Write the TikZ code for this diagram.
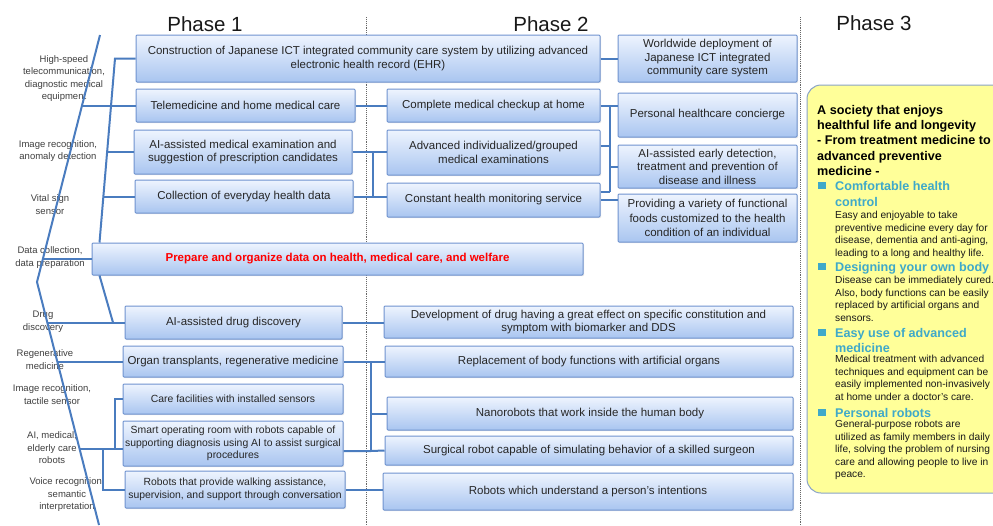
\documentclass[tikz,border=0pt]{standalone}
\usepackage{fontspec}
\setmainfont{Liberation Sans}
\usetikzlibrary{shadows,calc}
\definecolor{boxtop}{HTML}{EEF4FE}
\definecolor{boxbot}{HTML}{A9C5F0}
\definecolor{boxline}{HTML}{6F93CF}
\definecolor{boxtext}{HTML}{262626}
\definecolor{connc}{HTML}{4A7CBF}
\definecolor{lbltext}{HTML}{404040}
\definecolor{yfill}{HTML}{FFFF99}
\definecolor{yline}{HTML}{8AA4C8}
\definecolor{tealc}{HTML}{3FA9C9}
\definecolor{redc}{HTML}{FF0000}
\begin{document}
\begin{tikzpicture}[x=1pt,y=-1pt,
  box/.style={draw=boxline, line width=1pt, top color=boxtop, bottom color=boxbot,
    rounded corners=1pt, inner sep=0pt, align=center, text=boxtext,
    font=\fontsize{11.5}{13.5}\selectfont,
    drop shadow={shadow xshift=1pt,shadow yshift=-1.2pt,opacity=0.2}},
  smallbox/.style={box, font=\fontsize{10.4}{12.5}\selectfont},
  conn/.style={draw=connc, line width=2pt},
  lbl/.style={align=center, text=lbltext, font=\fontsize{9.5}{12.5}\selectfont, inner sep=0pt},
  phase/.style={font=\fontsize{20.5}{24}\selectfont, inner sep=0pt, text=black!90},
  divider/.style={draw=black!60, densely dotted, line width=0.9pt},
  ytitle/.style={anchor=base west, inner sep=0pt, font=\fontsize{12.6}{15}\selectfont\bfseries, text=black},
  yhead/.style={anchor=base west, inner sep=0pt, font=\fontsize{12.6}{15}\selectfont\bfseries, text=tealc},
  ybody/.style={anchor=base west, inner sep=0pt, font=\fontsize{10.2}{12.5}\selectfont, text=black!90},
  ybullet/.style={fill=tealc, inner sep=0pt, minimum width=7.5pt, minimum height=7pt}
]
\useasboundingbox (0,0) rectangle (993,525);
\fill[white] (0,0) rectangle (993,525);

% phase dividers and titles
\draw[divider] (366,17) -- (366,525);
\draw[divider] (800,17) -- (800,525);
\node[phase] (ph1) at (205,24) {Phase 1};
\node[phase] (ph2) at (551,24) {Phase 2};
\node[phase] (ph3) at (874,23.5) {Phase 3};

% left labels
\node[lbl] (l1) at (64,78.5) {High-speed\\telecommunication,\\diagnostic medical\\equipment};
\node[lbl] (l2) at (58,151) {Image recognition,\\anomaly detection};
\node[lbl] (l3) at (50,204.5) {Vital sign\\sensor};
\node[lbl] (l4) at (50,257.5) {Data collection,\\data preparation};
\node[lbl] (l5) at (43,321.5) {Drug\\discovery};
\node[lbl] (l6) at (45,359.5) {Regenerative\\medicine};
\node[lbl] (l7) at (52,394.5) {Image recognition,\\tactile sensor};
\node[lbl] (l8) at (52,448) {AI, medical,\\elderly care\\robots};
\node[lbl] (l9) at (67,495) {Voice recognition,\\semantic\\interpretation};

% phase 1 boxes
\node[box, minimum width=464pt, minimum height=47pt] (c1) at (368,58.5) {Construction of Japanese ICT integrated community care system by utilizing advanced\\electronic health record (EHR)};
\node[box, minimum width=219pt, minimum height=33pt] (t1) at (245.5,105.5) {Telemedicine and home medical care};
\node[box, minimum width=218pt, minimum height=44pt] (a1) at (243,152) {AI-assisted medical examination and\\suggestion of prescription candidates};
\node[box, minimum width=218pt, minimum height=33pt] (col) at (244,196.5) {Collection of everyday health data};
\node[box, minimum width=491pt, minimum height=32pt, text=redc, font=\fontsize{11.5}{13.5}\selectfont\bfseries] (prep) at (337.5,259) {Prepare and organize data on health, medical care, and welfare};
\node[box, minimum width=217pt, minimum height=33pt] (drug) at (233.5,322.5) {AI-assisted drug discovery};
\node[box, minimum width=220pt, minimum height=31pt] (organ) at (233,361.5) {Organ transplants, regenerative medicine};
\node[smallbox, minimum width=220pt, minimum height=30pt] (care) at (233,399) {Care facilities with installed sensors};
\node[smallbox, minimum width=220pt, minimum height=45pt] (smart) at (233,443.5) {Smart operating room with robots capable of\\supporting diagnosis using AI to assist surgical\\procedures};
\node[smallbox, minimum width=220pt, minimum height=37pt] (walk) at (235,489.5) {Robots that provide walking assistance,\\supervision, and support through conversation};

% phase 2 boxes
\node[box, minimum width=213pt, minimum height=33pt] (chk) at (493.5,105.5) {Complete medical checkup at home};
\node[box, minimum width=213pt, minimum height=45pt] (adv) at (493.5,152.5) {Advanced individualized/grouped\\medical examinations};
\node[box, minimum width=213pt, minimum height=34pt] (mon) at (493.5,200) {Constant health monitoring service};
\node[box, minimum width=179pt, minimum height=47pt] (ww) at (707.5,58.5) {Worldwide deployment of\\Japanese ICT integrated\\community care system};
\node[box, minimum width=179pt, minimum height=44pt] (conc) at (707.5,115) {Personal healthcare concierge};
\node[box, minimum width=179pt, minimum height=43pt] (early) at (707.5,166.5) {AI-assisted early detection,\\treatment and prevention of\\disease and illness};
\node[box, minimum width=179pt, minimum height=48pt, font=\fontsize{11.5}{14.5}\selectfont] (func) at (707.5,218) {Providing a variety of functional\\foods customized to the health\\condition of an individual};
\node[box, minimum width=409pt, minimum height=32pt] (dev) at (588.5,322) {Development of drug having a great effect on specific constitution and\\symptom with biomarker and DDS};
\node[box, minimum width=408pt, minimum height=31pt] (rep) at (589,361.5) {Replacement of body functions with artificial organs};
\node[box, minimum width=406pt, minimum height=33pt] (nano) at (590,413.5) {Nanorobots that work inside the human body};
\node[box, minimum width=408pt, minimum height=29pt] (surg) at (589,450.5) {Surgical robot capable of simulating behavior of a skilled surgeon};
\node[box, minimum width=410pt, minimum height=37pt] (und) at (588,491.5) {Robots which understand a person’s intentions};

% main spine
\coordinate (sTop) at (100,35);
\coordinate (sMid) at (37,282);
\coordinate (sBot) at (99,525);
\draw[conn] (sTop) -- (sMid) -- (sBot);

% branches from spine
\coordinate (sp1) at (82,105.5);
\coordinate (sp2) at (42.9,259);
\coordinate (sp3) at (47.3,322.5);
\coordinate (sp4) at (57.3,361.5);
\coordinate (sp5) at (79.6,449);
\draw[conn] (sp1) -- (t1.west);
\draw[conn] (sp2) -- (prep.west);
\draw[conn] (sp3) -- (drug.west);
\draw[conn] (sp4) -- (organ.west);
\draw[conn] (sp5) -- (sp5 -| smart.west);

% secondary spine, phase 1 top cluster
\coordinate (q1) at (115,58.5);
\coordinate (q2) at ($(prep.north west)+(8,0)$);
\coordinate (q3) at (107.4,152);
\coordinate (q4) at (103.8,196.5);
\draw[conn] (c1.west) -- (q1) -- (q2);
\draw[conn] (q3) -- (a1.west);
\draw[conn] (q4) -- (col.west);

% drug discovery link
\coordinate (q5) at ($(prep.south west)+(8,0)$);
\coordinate (q6) at (113,322.5);
\draw[conn] (q5) -- (q6);

% robots cluster
\coordinate (r1) at (115,449);
\coordinate (r2) at (103,449);
\draw[conn] (care.west) -| (r1);
\draw[conn] (r2) |- (walk.west);

% phase 1 -> phase 2
\draw[conn] (c1.east) -- (ww.west);
\draw[conn] (t1.east) -- (chk.west);
\draw[conn] (a1.east) -- (a1.east -| adv.west);
\draw[conn] (col.east) -- (col.east -| mon.west);
\coordinate (m1) at (373,152);
\coordinate (m2) at (373,196.5);
\draw[conn] (m1) -- (m2);

% phase 2 internal right
\coordinate (v1) at (610,105.5);
\coordinate (v2) at (610,192);
\coordinate (v3) at (610,146);
\coordinate (v4) at (610,166.5);
\draw[conn] (chk.east) -- (conc.west |- chk.east);
\draw[conn] (v1) -- (v2);
\draw[conn] ([yshift=6.5pt]adv.east) -- (v3);
\draw[conn] (v4) -- (early.west);
\draw[conn] ([yshift=8pt]mon.east) -- (v2);
\draw[conn] (mon.east) -- (func.west |- mon.east);

% lower phase 1 -> phase 2
\draw[conn] (drug.east) -- (drug.east -| dev.west);
\draw[conn] (organ.east) -- (organ.east -| rep.west);
\coordinate (w1) at (371,361.5);
\coordinate (w2) at (371,451);
\coordinate (w3) at (371,413.5);
\draw[conn] (w1) -- (w2);
\draw[conn] (w3) -- (nano.west);
\draw[conn] ([yshift=-7.5pt]smart.east) -- (w2) -- (surg.west);
\draw[conn] (walk.east) -- (walk.east -| und.west);

% phase 3 yellow panel
\begin{scope}
\clip (0,0) rectangle (993,525);
\draw[yline, fill=yfill, line width=1pt, rounded corners=14pt] (807,85) rectangle (1010,493);
\end{scope}

\foreach \t [count=\i from 0] in {A society that enjoys, healthful life and longevity, - From treatment medicine to, advanced preventive, medicine -}
  \node[ytitle, name=yt\i] at (817,{114+15.4*\i}) {\t};

\node[ybullet] (b1) at (822,185.5) {};
\node[ybullet] (b2) at (822,266.5) {};
\node[ybullet] (b3) at (822,332.5) {};
\node[ybullet] (b4) at (822,412.5) {};

\node[yhead] (h1a) at (835,190) {Comfortable health};
\node[yhead] (h1b) at (835,206) {control};
\foreach \t [count=\i from 0] in {Easy and enjoyable to take, preventive medicine every day for, {disease, dementia and anti-aging,}, leading to a long and healthy life.}
  \node[ybody, name=ba\i] at (835,{218.5+12.5*\i}) {\t};

\node[yhead] (h2) at (835,271) {Designing your own body};
\foreach \t [count=\i from 0] in {Disease can be immediately cured., {Also, body functions can be easily}, replaced by artificial organs and, sensors.}
  \node[ybody, name=bb\i] at (835,{283.5+12.5*\i}) {\t};

\node[yhead] (h3a) at (835,337) {Easy use of advanced};
\node[yhead] (h3b) at (835,352) {medicine};
\foreach \t [count=\i from 0] in {Medical treatment with advanced, techniques and equipment can be, easily implemented non-invasively, at home under a doctor’s care.}
  \node[ybody, name=bc\i] at (835,{362.5+12.5*\i}) {\t};

\node[yhead] (h4) at (835,417) {Personal robots};
\foreach \t [count=\i from 0] in {General-purpose robots are, utilized as family members in daily, {life, solving the problem of nursing}, care and allowing people to live in, peace.}
  \node[ybody, name=bd\i] at (835,{427.5+12.5*\i}) {\t};

\end{tikzpicture}
\end{document}
